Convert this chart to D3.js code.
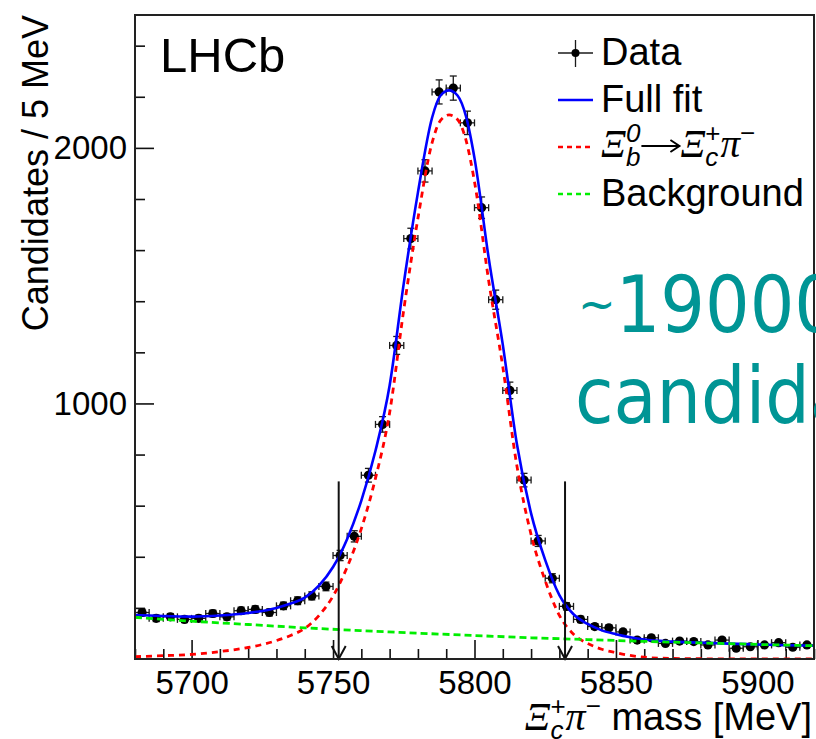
<!DOCTYPE html>
<html>
<head>
<meta charset="utf-8">
<script src="https://cdn.jsdelivr.net/npm/d3@7"></script>
<style>
  html, body { margin: 0; padding: 0; background: #fff; }
  svg { display: block; }
</style>
</head>
<body>
<svg id="chart" width="816" height="739"></svg>
<script>
// ---- data ------------------------------------------------------------
// 5 MeV bins of the Xi_c+ pi- invariant mass
const binCentres = [5682.5, 5687.5, 5692.5, 5697.5, 5702.5, 5707.5, 5712.5, 5717.5,
  5722.5, 5727.5, 5732.5, 5737.5, 5742.5, 5747.5, 5752.5, 5757.5, 5762.5, 5767.5,
  5772.5, 5777.5, 5782.5, 5787.5, 5792.5, 5797.5, 5802.5, 5807.5, 5812.5, 5817.5,
  5822.5, 5827.5, 5832.5, 5837.5, 5842.5, 5847.5, 5852.5, 5857.5, 5862.5, 5867.5,
  5872.5, 5877.5, 5882.5, 5887.5, 5892.5, 5897.5, 5902.5, 5907.5, 5912.5, 5917.5];
const counts = [182, 159, 165, 155, 159, 178, 165, 189, 194, 182, 208, 228, 247, 284,
  405, 480, 719, 918, 1227, 1645, 1910, 2219, 2234, 2098, 1766, 1406, 1051, 700,
  462, 316, 206, 155, 127, 122, 106, 74, 83, 61, 70, 68, 55, 74, 42, 48, 55, 64, 46, 55];
const binWidth = 5;

// fit components sampled along the mass axis
const curveMass = [5680, 5690, 5700, 5710, 5720, 5730, 5735, 5740, 5745, 5750, 5755,
  5760, 5765, 5770, 5775, 5780, 5785, 5788, 5791, 5794, 5797, 5800, 5805, 5810, 5815,
  5820, 5825, 5830, 5835, 5840, 5845, 5850, 5855, 5860, 5870, 5880, 5890, 5900, 5910, 5920];
const fullFit = [172, 168, 166, 170, 180, 200, 217, 240, 287, 360, 470,
  620, 815, 1070, 1470, 1825, 2118, 2205, 2225, 2205, 2123, 1960, 1570, 1230, 840,
  570, 387, 250, 175, 137, 112, 97, 85, 76, 68, 64, 60, 57, 54, 52];
const signalFit = [9, 13, 18, 29, 45, 72, 92, 120, 170, 246, 360,
  510, 707, 964, 1367, 1724, 2020, 2108, 2129, 2111, 2030, 1868, 1481, 1143, 755,
  487, 306, 171, 97, 61, 38, 25, 14, 7, 2, 1, 0, 0, 0, 0];
const bkgMass = [5680, 5700, 5720, 5740, 5760, 5780, 5800, 5820, 5840, 5860, 5880, 5900, 5920];
const bkgFit = [163, 148, 135, 122, 111, 101, 92, 83, 76, 69, 63, 57, 52];

// signal window marked by arrows
const windowEdges = [5752, 5832];
const windowArrowTop = 695;

// axes
const xDomain = [5680, 5920];
const yDomain = [0, 2520];
const xMajorTicks = [5700, 5750, 5800, 5850, 5900];
const yMajorTicks = [1000, 2000];
const xMinorStep = 10;
const yMinorStep = 200;

// ---- layout ----------------------------------------------------------
const SANS = "'Liberation Sans', Arial, Helvetica, sans-serif";
const SERIF = "'Liberation Serif', 'Times New Roman', serif";
const frame = { left: 135, top: 15, right: 814, bottom: 659 };

const svg = d3.select("#chart");
const x = d3.scaleLinear().domain(xDomain).range([frame.left, frame.right]);
const y = d3.scaleLinear().domain(yDomain).range([frame.bottom, frame.top]);

svg.append("defs").append("clipPath").attr("id", "plotClip")
  .append("rect")
  .attr("x", frame.left).attr("y", frame.top)
  .attr("width", frame.right - frame.left).attr("height", frame.bottom - frame.top);

// ---- axes (ROOT style: ticks point inwards) ---------------------------
const labelSize = 33;
const xMinor = d3.range(xDomain[0], xDomain[1] + 0.1, xMinorStep).filter(v => !xMajorTicks.includes(v));
const yMinor = d3.range(yDomain[0] + yMinorStep, yDomain[1], yMinorStep).filter(v => !yMajorTicks.includes(v));

function styleAxis(g) {
  g.select(".domain").remove();
  g.selectAll(".tick line").attr("stroke", "#111").attr("stroke-width", 1.6);
  g.selectAll(".tick text").attr("font-family", SANS).attr("font-size", labelSize).attr("fill", "#000");
}

svg.append("g").attr("transform", `translate(0,${frame.bottom})`)
  .call(d3.axisBottom(x).tickValues(xMajorTicks).tickSize(-19).tickPadding(12).tickFormat(d3.format("d")))
  .call(styleAxis);
svg.append("g").attr("transform", `translate(0,${frame.bottom})`)
  .call(d3.axisBottom(x).tickValues(xMinor).tickSize(-10).tickFormat(""))
  .call(styleAxis);
svg.append("g").attr("transform", `translate(${frame.left},0)`)
  .call(d3.axisLeft(y).tickValues(yMajorTicks).tickSize(-19).tickPadding(8).tickFormat(d3.format("d")))
  .call(styleAxis);
svg.append("g").attr("transform", `translate(${frame.left},0)`)
  .call(d3.axisLeft(y).tickValues(yMinor).tickSize(-10).tickFormat(""))
  .call(styleAxis);

// ---- data points with error bars ---------------------------------------
const plot = svg.append("g").attr("clip-path", "url(#plotClip)");
const points = binCentres.map((m, i) => ({ m, n: counts[i], e: Math.sqrt(counts[i]) }));
const cap = 3.5;
const pg = plot.append("g").attr("stroke", "#1a1a1a").attr("stroke-width", 1.3)
  .selectAll("g").data(points).join("g");
pg.append("line")
  .attr("x1", d => x(d.m - binWidth / 2)).attr("x2", d => x(d.m + binWidth / 2))
  .attr("y1", d => y(d.n)).attr("y2", d => y(d.n));
pg.append("line")
  .attr("x1", d => x(d.m)).attr("x2", d => x(d.m))
  .attr("y1", d => y(d.n - d.e)).attr("y2", d => y(d.n + d.e));
[-1, 1].forEach(s => {
  pg.append("line")
    .attr("x1", d => x(d.m) - cap).attr("x2", d => x(d.m) + cap)
    .attr("y1", d => y(d.n + s * d.e)).attr("y2", d => y(d.n + s * d.e));
  pg.append("line")
    .attr("x1", d => x(d.m + s * binWidth / 2)).attr("x2", d => x(d.m + s * binWidth / 2))
    .attr("y1", d => y(d.n) - cap).attr("y2", d => y(d.n) + cap);
});
pg.append("circle").attr("cx", d => x(d.m)).attr("cy", d => y(d.n)).attr("r", 4.6)
  .attr("fill", "#000").attr("stroke", "none");

// ---- fit curves -----------------------------------------------------------
const line = d3.line().x(d => x(d[0])).y(d => y(d[1])).curve(d3.curveMonotoneX);
plot.append("path").datum(curveMass.map((m, i) => [m, fullFit[i]]))
  .attr("d", line).attr("fill", "none").attr("stroke", "#0000ff").attr("stroke-width", 2.6);
plot.append("path").datum(curveMass.map((m, i) => [m, signalFit[i]]))
  .attr("d", line).attr("fill", "none").attr("stroke", "#ff0000").attr("stroke-width", 2.8)
  .attr("stroke-dasharray", "6,5");
plot.append("path").datum(bkgMass.map((m, i) => [m, bkgFit[i]]))
  .attr("d", line).attr("fill", "none").attr("stroke", "#00ee00").attr("stroke-width", 2.8)
  .attr("stroke-dasharray", "7,4");

// ---- signal window arrows --------------------------------------------------
const arrows = svg.append("g").attr("stroke", "#111").attr("stroke-width", 2).attr("fill", "none");
windowEdges.forEach(m => {
  const ax = x(m), y0 = y(0), y1 = y(windowArrowTop);
  arrows.append("line").attr("x1", ax).attr("x2", ax).attr("y1", y1).attr("y2", y0);
  arrows.append("path").attr("d", `M${ax - 7},${y0 - 13} L${ax},${y0} L${ax + 7},${y0 - 13}`);
});

// ---- frame ------------------------------------------------------------------
svg.append("rect")
  .attr("x", frame.left).attr("y", frame.top)
  .attr("width", frame.right - frame.left).attr("height", frame.bottom - frame.top)
  .attr("fill", "none").attr("stroke", "#222").attr("stroke-width", 2);

// ---- rich text helper (sub/superscripts stacked like ROOT's TLatex) ---------
function richText(parent, px, py, runs, anchor) {
  const g = parent.append("g");
  let cx = 0;
  const place = (r, atX) => {
    const t = g.append("text")
      .attr("x", atX).attr("y", r.dy || 0)
      .attr("font-family", r.family || SANS)
      .attr("font-size", r.size)
      .attr("font-style", r.italic ? "italic" : "normal")
      .attr("fill", "#000")
      .style("white-space", "pre")
      .text(r.t);
    return t.node().getComputedTextLength();
  };
  runs.forEach(r => {
    if (r.stack) {
      cx += Math.max(...r.stack.map(s => place(s, cx)));
    } else if (r.arrow) {
      // long right arrow drawn as a stroke with an open head
      const w = r.arrow, ay = r.dy;
      g.append("path")
        .attr("d", `M${cx + 1},${ay} L${cx + w - 1},${ay} M${cx + w - 10},${ay - 6} L${cx + w - 1},${ay} L${cx + w - 10},${ay + 6}`)
        .attr("fill", "none").attr("stroke", "#000").attr("stroke-width", 2);
      cx += w;
    } else {
      cx += place(r, cx) + (r.gap || 0);
    }
  });
  const shift = anchor === "end" ? -cx : 0;
  g.attr("transform", `translate(${px + shift},${py})`);
  return g;
}

const titleSize = 38;
const scriptSize = 26;

// y axis title
svg.append("text")
  .attr("transform", `translate(48,${frame.top}) rotate(-90)`)
  .attr("text-anchor", "end")
  .attr("font-family", SANS).attr("font-size", 36).attr("fill", "#000")
  .text("Candidates / 5 MeV");

// x axis title
richText(svg, 812, 730, [
  { t: "Ξ", family: SERIF, italic: true, size: titleSize + 2 },
  { stack: [
    { t: "c", italic: true, size: scriptSize, dy: 9 },
    { t: "+", size: scriptSize, dy: -15 }
  ] },
  { t: "π", family: SERIF, italic: true, size: titleSize + 2 },
  { t: "−", size: scriptSize, dy: -15 },
  { t: " mass [MeV]", size: titleSize }
], "end");

// experiment label
svg.append("text").attr("x", 160).attr("y", 72)
  .attr("font-family", SANS).attr("font-size", 49).attr("fill", "#000")
  .text("LHCb");

// ---- legend -------------------------------------------------------------------
const legend = svg.append("g");
const legX0 = 558, legX1 = 593, legText = 601;
const rowY = [53, 100, 147, 194];
const legSize = 38;

// Data
legend.append("line").attr("x1", legX0).attr("x2", legX1).attr("y1", rowY[0]).attr("y2", rowY[0])
  .attr("stroke", "#1a1a1a").attr("stroke-width", 1.3);
legend.append("line").attr("x1", (legX0 + legX1) / 2).attr("x2", (legX0 + legX1) / 2)
  .attr("y1", rowY[0] - 13).attr("y2", rowY[0] + 14).attr("stroke", "#1a1a1a").attr("stroke-width", 1.3);
legend.append("circle").attr("cx", (legX0 + legX1) / 2).attr("cy", rowY[0]).attr("r", 4).attr("fill", "#000");
// Full fit
legend.append("line").attr("x1", legX0).attr("x2", legX1).attr("y1", rowY[1]).attr("y2", rowY[1])
  .attr("stroke", "#0000ff").attr("stroke-width", 2.4);
// Signal
legend.append("line").attr("x1", legX0).attr("x2", legX1 - 3).attr("y1", rowY[2]).attr("y2", rowY[2])
  .attr("stroke", "#ff0000").attr("stroke-width", 2.4).attr("stroke-dasharray", "5,4");
// Background
legend.append("line").attr("x1", legX0).attr("x2", legX1 - 3).attr("y1", rowY[3]).attr("y2", rowY[3])
  .attr("stroke", "#00ee00").attr("stroke-width", 2.4).attr("stroke-dasharray", "5,4");

const legendLabels = ["Data", "Full fit", null, "Background"];
legendLabels.forEach((lab, i) => {
  if (lab) legend.append("text").attr("x", legText).attr("y", rowY[i] + 12)
    .attr("font-family", SANS).attr("font-size", legSize).attr("fill", "#000").text(lab);
});
richText(legend, legText, rowY[2] + 10, [
  { t: "Ξ", family: SERIF, italic: true, size: legSize + 1 },
  { stack: [
    { t: "b", italic: true, size: scriptSize, dy: 9 },
    { t: "0", italic: true, size: scriptSize, dy: -15 }
  ] },
  { arrow: 40, dy: -11 },
  { t: "Ξ", family: SERIF, italic: true, size: legSize + 1 },
  { stack: [
    { t: "c", italic: true, size: scriptSize, dy: 9 },
    { t: "+", size: scriptSize, dy: -15 }
  ] },
  { t: "π", family: SERIF, italic: true, size: legSize + 1 },
  { t: "−", size: scriptSize, dy: -15 }
]);

// ---- yield annotation --------------------------------------------------------
const note = svg.append("g").attr("fill", "#009595")
  .attr("font-family", "'DejaVu Sans', Verdana, sans-serif").attr("font-size", 78);
const yieldLine = note.append("text").attr("transform", "translate(578,332) scale(0.9,1)");
yieldLine.append("tspan").attr("font-size", 50).attr("dy", -11).text("~");
yieldLine.append("tspan").attr("dy", 11).text("19000");
note.append("text").attr("transform", "translate(575,423) scale(0.9,1)").text("candidates");
</script>
</body>
</html>
